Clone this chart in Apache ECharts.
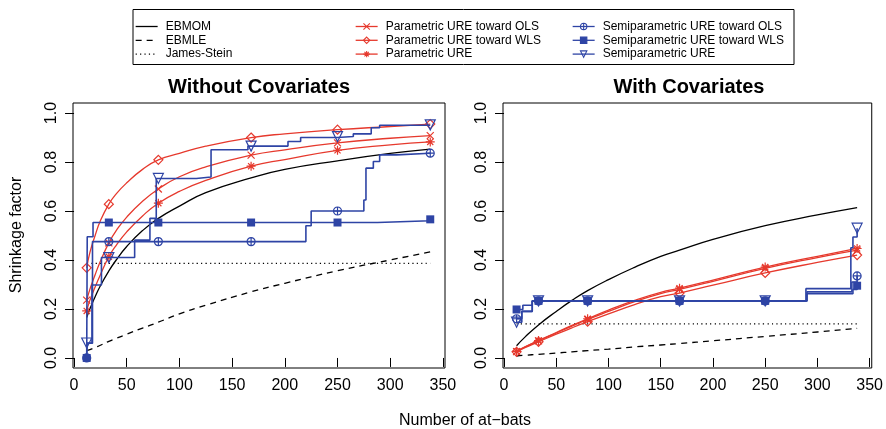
<!DOCTYPE html>
<html>
<head>
<meta charset="utf-8">
<title>Shrinkage factor</title>
<script src="https://cdn.jsdelivr.net/npm/echarts@6/dist/echarts.min.js"></script>
<style>
html, body { margin: 0; padding: 0; background: #fff; }
#chart { width: 886px; height: 429px; }
</style>
</head>
<body>
<div id="chart"></div>
<script>
// ticks
var xTicks = [0, 50, 100, 150, 200, 250, 300, 350];
var yTicks = [0, 0.2, 0.4, 0.6, 0.8, 1.0];

// at-bats where the markers sit
var markX = [12, 33, 80, 168, 250, 338];

// ---- Without Covariates ----
var leftX = [12, 15, 20, 25, 33, 40, 50, 65, 80, 100, 125, 168, 200, 250, 300, 338];
var leftEbmom = [0.165, 0.2, 0.25, 0.295, 0.355, 0.4, 0.455, 0.52, 0.57, 0.62, 0.675, 0.735, 0.77, 0.805, 0.835, 0.853];
var leftEbmle = [0.03, 0.034, 0.043, 0.052, 0.068, 0.08, 0.097, 0.122, 0.146, 0.18, 0.215, 0.27, 0.305, 0.356, 0.4, 0.433];
var leftJs = [0.386, 0.386, 0.386, 0.386, 0.386, 0.386, 0.386, 0.386, 0.386, 0.386, 0.386, 0.386, 0.386, 0.386, 0.386, 0.386];
var leftParOls = [0.236, 0.28, 0.34, 0.395, 0.47, 0.52, 0.575, 0.64, 0.69, 0.74, 0.78, 0.828, 0.85, 0.878, 0.897, 0.908];
var leftParWls = [0.368, 0.43, 0.5, 0.56, 0.628, 0.67, 0.715, 0.77, 0.809, 0.835, 0.865, 0.9, 0.915, 0.932, 0.945, 0.955];
var leftPar = [0.192, 0.235, 0.29, 0.34, 0.413, 0.46, 0.515, 0.58, 0.632, 0.68, 0.725, 0.783, 0.81, 0.848, 0.87, 0.882];

var leftSemiOlsX = [12, 12.5, 17.5, 33, 80, 168, 220, 225, 250, 275, 277, 284, 290, 306, 338];
var leftSemiOls = [0, 0.06, 0.475, 0.475, 0.475, 0.475, 0.54, 0.6, 0.6, 0.645, 0.775, 0.802, 0.829, 0.836, 0.836];
var leftSemiWlsX = [12, 12.5, 18, 33, 80, 168, 250, 288, 338];
var leftSemiWls = [0, 0.495, 0.553, 0.553, 0.553, 0.553, 0.553, 0.56, 0.566];
var leftSemiX = [12, 17, 26, 33, 57.5, 72, 78, 80, 116, 130, 165, 168, 203, 215, 250, 265, 282, 290, 338];
var leftSemi = [0.061, 0.298, 0.41, 0.41, 0.481, 0.57, 0.733, 0.733, 0.739, 0.85, 0.865, 0.865, 0.884, 0.9, 0.904, 0.915, 0.94, 0.95, 0.952];

// ---- With Covariates ----
var rightX = [12, 20, 33, 50, 65, 80, 100, 125, 150, 168, 200, 250, 300, 338];
var rightEbmom = [0.05, 0.085, 0.135, 0.19, 0.235, 0.275, 0.32, 0.37, 0.415, 0.44, 0.484, 0.54, 0.584, 0.614];
var rightEbmle = [0.008, 0.011, 0.015, 0.02, 0.025, 0.03, 0.036, 0.045, 0.053, 0.059, 0.07, 0.088, 0.106, 0.121];
var rightJs = [0.139, 0.139, 0.139, 0.139, 0.139, 0.139, 0.139, 0.139, 0.139, 0.139, 0.139, 0.139, 0.139, 0.139];
var rightParOls = [0.026, 0.044, 0.07, 0.102, 0.13, 0.157, 0.19, 0.23, 0.263, 0.28, 0.313, 0.366, 0.41, 0.44];
var rightParWls = [0.025, 0.042, 0.066, 0.097, 0.123, 0.148, 0.18, 0.218, 0.25, 0.265, 0.297, 0.347, 0.39, 0.42];
var rightPar = [0.027, 0.045, 0.071, 0.104, 0.133, 0.16, 0.195, 0.235, 0.268, 0.285, 0.318, 0.371, 0.415, 0.447];

var rightSemiOlsX = [12, 17, 27, 33, 80, 168, 250, 290, 333, 338];
var rightSemiOls = [0.16, 0.19, 0.233, 0.233, 0.233, 0.233, 0.233, 0.27, 0.31, 0.335];
var rightSemiWlsX = [12, 18, 27, 33, 80, 168, 250, 290, 334, 338];
var rightSemiWls = [0.198, 0.215, 0.233, 0.233, 0.233, 0.233, 0.233, 0.262, 0.28, 0.295];
var rightSemiX = [12, 17, 27, 33, 80, 168, 250, 289, 332, 334, 338];
var rightSemi = [0.146, 0.19, 0.233, 0.233, 0.233, 0.233, 0.233, 0.283, 0.45, 0.494, 0.53];

var RED = '#e6392d', BLUE = '#2e44a5', FONT = '"Liberation Sans", Arial, sans-serif';

// R style point symbols
var SYM = {
    cross: 'path://M0,0L10,10M10,0L0,10',
    diamond: 'path://M5,0L10,5L5,10L0,5Z',
    star: 'path://M5,0L5,10M0,5L10,5M1.6,1.6L8.4,8.4M8.4,1.6L1.6,8.4',
    oplus: 'path://M0,5A5,5,0,1,1,10,5A5,5,0,1,1,0,5ZM5,0L5,10M0,5L10,5',
    tri: 'path://M0,0L10,0L5,8.66Z'
};

function pts(xs, ys, marks) {
    return xs.map(function(x, i) {
        var d = { value: [x, ys[i]] };
        if (!marks || marks.indexOf(x) < 0) d.symbol = 'none';
        return d;
    });
}

function plainLine(name, p, xs, ys, type) {
    return {
        name: name, type: 'line', xAxisIndex: p, yAxisIndex: p,
        data: pts(xs, ys), showSymbol: false, symbol: 'circle',
        smooth: 0.5,
        lineStyle: { color: '#000', width: 1.3, type: type },
        itemStyle: { color: 'rgba(0,0,0,0)', borderColor: 'rgba(0,0,0,0)' },
        silent: true, z: 2
    };
}

function markLine(name, p, xs, ys, color, sym, size, filled, step) {
    var s = {
        name: name, type: 'line', xAxisIndex: p, yAxisIndex: p,
        data: pts(xs, ys, markX), showSymbol: true, symbol: sym, symbolSize: size,
        lineStyle: { color: color, width: step ? 1.6 : 1.3 },
        itemStyle: { color: filled ? color : 'rgba(0,0,0,0)', borderColor: color, borderWidth: filled ? 0 : 1.2 },
        silent: true, z: step ? 4 : 3
    };
    if (step) s.step = 'end';
    else s.smooth = 0.5;
    return s;
}

function panelSeries(p, d) {
    return [
        plainLine('EBMOM', p, d.x, d.ebmom, 'solid'),
        plainLine('EBMLE', p, d.x, d.ebmle, [6, 5]),
        plainLine('James-Stein', p, d.x, d.js, [1.2, 3.2]),
        markLine('Parametric URE toward OLS', p, d.x, d.parOls, RED, SYM.cross, 7),
        markLine('Parametric URE toward WLS', p, d.x, d.parWls, RED, SYM.diamond, 9),
        markLine('Parametric URE', p, d.x, d.par, RED, SYM.star, 9),
        markLine('Semiparametric URE toward OLS', p, d.semiOlsX, d.semiOls, BLUE, SYM.oplus, 8, false, true),
        markLine('Semiparametric URE toward WLS', p, d.semiWlsX, d.semiWls, BLUE, 'rect', 8, true, true),
        markLine('Semiparametric URE', p, d.semiX, d.semi, BLUE, SYM.tri, 10, false, true)
    ];
}

var leftData = {
    x: leftX, ebmom: leftEbmom, ebmle: leftEbmle, js: leftJs,
    parOls: leftParOls, parWls: leftParWls, par: leftPar,
    semiOlsX: leftSemiOlsX, semiOls: leftSemiOls, semiWlsX: leftSemiWlsX, semiWls: leftSemiWls,
    semiX: leftSemiX, semi: leftSemi
};
var rightData = {
    x: rightX, ebmom: rightEbmom, ebmle: rightEbmle, js: rightJs,
    parOls: rightParOls, parWls: rightParWls, par: rightPar,
    semiOlsX: rightSemiOlsX, semiOls: rightSemiOls, semiWlsX: rightSemiWlsX, semiWls: rightSemiWls,
    semiX: rightSemiX, semi: rightSemi
};

function xAxisFor(p) {
    return {
        type: 'value', gridIndex: p, min: -1, max: 352,
        axisLine: { show: false }, splitLine: { show: false },
        axisTick: { show: true, customValues: xTicks, length: 9, lineStyle: { color: '#000', width: 1 } },
        axisLabel: { customValues: xTicks, margin: 10, color: '#000', fontSize: 16, fontFamily: FONT }
    };
}
function yAxisFor(p) {
    return {
        type: 'value', gridIndex: p, min: -0.041, max: 1.041,
        axisLine: { show: false }, splitLine: { show: false },
        axisTick: { show: true, customValues: yTicks, length: 9, lineStyle: { color: '#000', width: 1 } },
        axisLabel: {
            customValues: yTicks, margin: 13, rotate: 90, color: '#000', fontSize: 16, fontFamily: FONT,
            formatter: function(v) { return v.toFixed(1); }
        }
    };
}

function legendCol(left, names) {
    return {
        orient: 'vertical', left: left, top: 20, padding: 0,
        itemWidth: 22, itemHeight: 8, itemGap: 0.8,
        selectedMode: false, data: names,
        textStyle: { fontSize: 12, fontFamily: FONT, color: '#000', lineHeight: 13, padding: [0, 0, 0, 3] },
        itemStyle: { borderWidth: 1.1 },
        lineStyle: { width: 1.3 }
    };
}

var chart = echarts.init(document.getElementById('chart'), null, { renderer: 'canvas' });
chart.setOption({
    animation: false,
    backgroundColor: '#fff',
    grid: [
        { left: 73, top: 103, width: 372, height: 265, show: true, borderColor: '#000', borderWidth: 1, backgroundColor: 'rgba(0,0,0,0)' },
        { left: 503, top: 103, width: 372, height: 265, show: true, borderColor: '#000', borderWidth: 1, backgroundColor: 'rgba(0,0,0,0)' }
    ],
    xAxis: [xAxisFor(0), xAxisFor(1)],
    yAxis: [yAxisFor(0), yAxisFor(1)],
    legend: [
        legendCol(135, ['EBMOM', 'EBMLE', 'James-Stein']),
        legendCol(355, ['Parametric URE toward OLS', 'Parametric URE toward WLS', 'Parametric URE']),
        legendCol(572, ['Semiparametric URE toward OLS', 'Semiparametric URE toward WLS', 'Semiparametric URE'])
    ],
    graphic: [
        { type: 'rect', shape: { x: 133, y: 9.5, width: 661, height: 55 }, style: { fill: 'none', stroke: '#000', lineWidth: 1 } },
        { type: 'text', x: 259, y: 87, style: { text: 'Without Covariates', align: 'center', verticalAlign: 'middle', font: 'bold 20px ' + FONT, fill: '#000' } },
        { type: 'text', x: 689, y: 87, style: { text: 'With Covariates', align: 'center', verticalAlign: 'middle', font: 'bold 20px ' + FONT, fill: '#000' } },
        { type: 'text', x: 17, y: 235, rotation: Math.PI / 2, style: { text: 'Shrinkage factor', align: 'center', verticalAlign: 'middle', font: '16px ' + FONT, fill: '#000' } },
        { type: 'text', x: 465, y: 421, style: { text: 'Number of at\u2212bats', align: 'center', verticalAlign: 'middle', font: '16px ' + FONT, fill: '#000' } }
    ],
    series: panelSeries(0, leftData).concat(panelSeries(1, rightData))
});
</script>
</body>
</html>
